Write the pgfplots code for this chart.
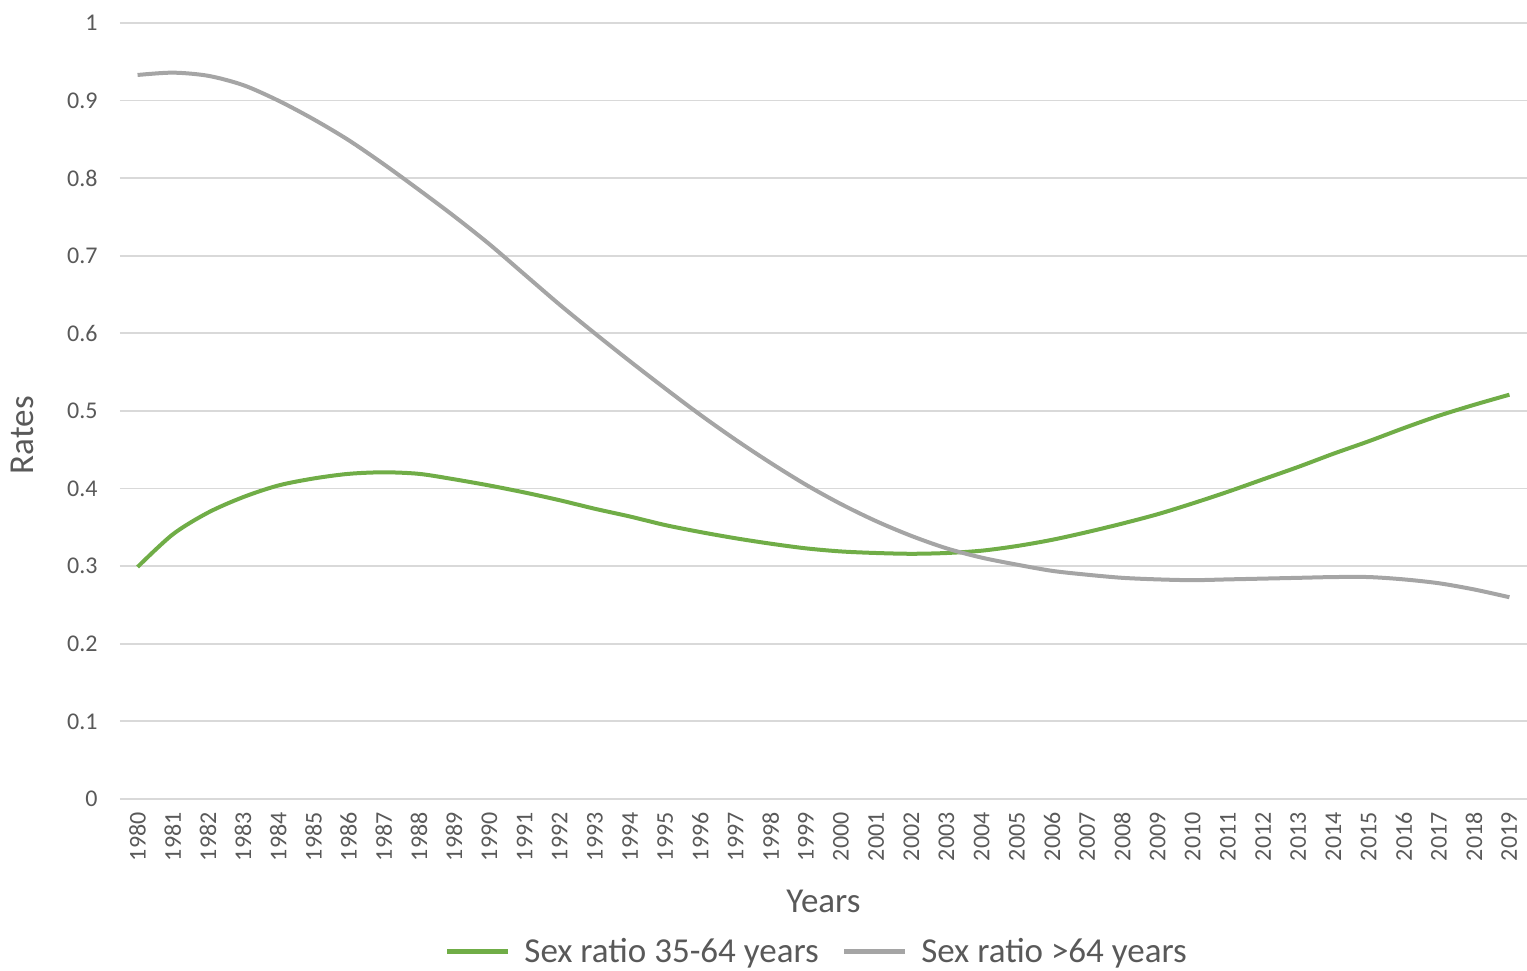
\documentclass[border=0pt]{standalone}
\usepackage{pgfplots}
\pgfplotsset{compat=1.18}
\usepackage{fontspec}
\setmainfont{Carlito}

\definecolor{serA}{HTML}{70AD47}
\definecolor{serB}{HTML}{A5A5A5}
\definecolor{gridc}{HTML}{D9D9D9}
\definecolor{txt}{HTML}{595959}

% Sex ratio by age group, 1980-2019
\pgfplotstableread{
year  young  old
1980  0.299  0.933
1981  0.341  0.936
1982  0.369  0.932
1983  0.389  0.920
1984  0.404  0.900
1985  0.413  0.876
1986  0.419  0.849
1987  0.421  0.818
1988  0.419  0.785
1989  0.412  0.751
1990  0.404  0.715
1991  0.395  0.676
1992  0.385  0.637
1993  0.374  0.600
1994  0.364  0.564
1995  0.353  0.529
1996  0.344  0.495
1997  0.336  0.463
1998  0.329  0.433
1999  0.323  0.405
2000  0.319  0.380
2001  0.317  0.358
2002  0.316  0.339
2003  0.317  0.323
2004  0.320  0.311
2005  0.326  0.302
2006  0.334  0.294
2007  0.344  0.289
2008  0.355  0.285
2009  0.367  0.283
2010  0.381  0.282
2011  0.396  0.283
2012  0.412  0.284
2013  0.428  0.285
2014  0.445  0.286
2015  0.461  0.286
2016  0.478  0.283
2017  0.494  0.278
2018  0.508  0.270
2019  0.521  0.260
}\ratios

\begin{document}
\begin{tikzpicture}
\begin{axis}[
  at={(60pt,85.5pt)}, anchor=south west,
  scale only axis, width=703.5pt, height=388pt,
  xmin=1979.5, xmax=2019.5, ymin=0, ymax=1,
  xtick={1980,...,2019},
  ytick={0,0.1,0.2,0.3,0.4,0.5,0.6,0.7,0.8,0.9,1},
  axis line style={draw=none},
  major tick length=0pt,
  ymajorgrids, grid style={gridc, line width=0.9pt},
  /pgf/number format/assume math mode=true,
  /pgf/number format/1000 sep={},
  tick label style={font=\fontsize{12}{14}\selectfont, text=txt},
  yticklabel style={anchor=east, inner sep=0pt, xshift=-11pt},
  xticklabel style={rotate=90, anchor=east, inner sep=0pt},
  xticklabel shift=6.5pt,
  xlabel={Years}, ylabel={Rates},
  label style={font=\fontsize{17.5}{20}\selectfont, text=txt},
  xlabel style={at={(axis description cs:0.5,-0.1321)}, anchor=center},
  ylabel style={at={(axis description cs:-0.0697,0.469)}, anchor=center},
  legend columns=2,
  legend style={at={(axis description cs:0.496,-0.197)}, anchor=center, draw=none, fill=none,
    font=\fontsize{17.5}{20}\selectfont, text=txt,
    /tikz/every even column/.append style={column sep=9.5pt}},
  legend image code/.code={%
    \path[draw=none] (0pt,0pt) -- (36.5pt,0pt);
    \draw[#1, line width=2.5pt] (0pt,0pt) -- (30.5pt,0pt);},
  clip=false,
]
\addplot[serA, line width=2pt, smooth, tension=0.5] table[x=year, y=young] {\ratios};
\addlegendentry{Sex ratio 35-64 years}
\addplot[serB, line width=2pt, smooth, tension=0.5] table[x=year, y=old] {\ratios};
\addlegendentry{Sex ratio >64 years}
\end{axis}
\pgfresetboundingbox
\useasboundingbox (0,0) rectangle (763.5pt,485pt);
\end{tikzpicture}
\end{document}
